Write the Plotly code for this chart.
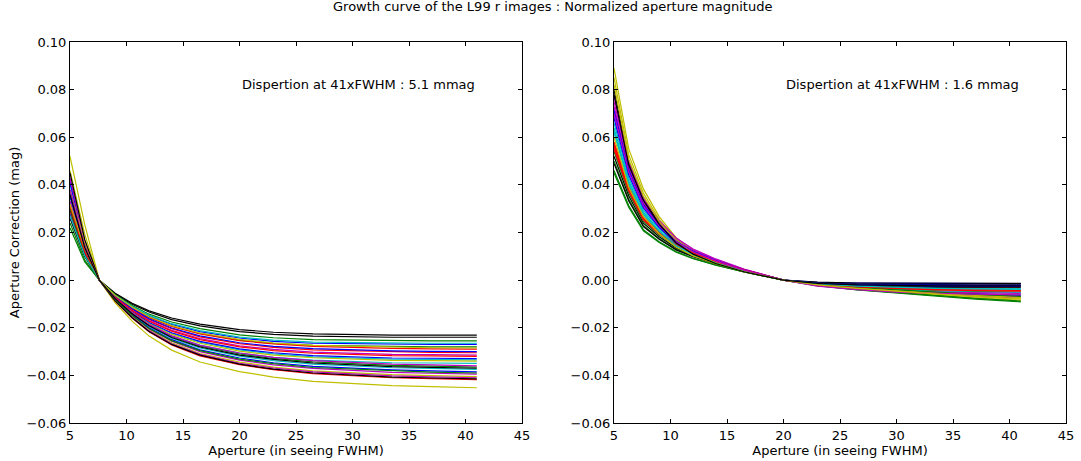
import plotly.graph_objects as go

# Aperture sample points (in units of seeing FWHM)
APERTURES = [5, 6.3, 7.6, 9, 10.5, 12, 14, 16.5, 20, 23, 26.5, 30, 33.5, 37, 41]

# matplotlib classic colour cycle b, g, r, c, m, y, k
COLOR_CYCLE = ["#0000ff", "#008000", "#ff0000", "#00bfbf", "#bf00bf", "#bfbf00", "#000000"]

# Left panel: normalized aperture corrections (mmag), one list per image
LEFT_MMAG = [
    [28, 10.6, 0, -6.5, -11.3, -15.1, -18.6, -21.6, -24.3, -25.7, -26.5, -26.7, -27.0, -27.0, -27.0],
    [33, 11.5, 0, -7.7, -13.9, -19.0, -23.7, -27.7, -31.0, -32.9, -34.3, -35.0, -35.8, -36.1, -36.5],
    [32, 12.2, 0, -6.9, -12.2, -16.5, -20.4, -23.8, -26.7, -28.2, -29.3, -29.7, -30.2, -30.3, -30.5],
    [36, 13.7, 0, -7.5, -13.4, -18.1, -22.4, -26.1, -29.3, -31.0, -32.2, -32.7, -33.2, -33.3, -33.5],
    [42, 16.0, 0, -8.3, -15.0, -20.5, -25.7, -30.0, -33.6, -35.6, -37.1, -37.9, -38.7, -39.1, -39.5],
    [52, 23.4, 0, -9.5, -17.2, -23.5, -29.4, -34.4, -38.4, -40.7, -42.5, -43.4, -44.3, -44.7, -45.2],
    [30, 11.4, 0, -5.5, -9.7, -12.9, -15.9, -18.5, -20.8, -21.9, -22.6, -22.9, -23.1, -23.1, -23.1],
    [35, 13.3, 0, -7.4, -13.2, -17.8, -22.1, -25.7, -28.9, -30.5, -31.7, -32.2, -32.7, -32.8, -33.0],
    [24, 8.4, 0, -6.7, -11.8, -15.7, -19.3, -22.4, -25.2, -26.6, -27.4, -27.7, -28.0, -28.0, -28.0],
    [38, 14.4, 0, -8.8, -15.9, -21.7, -27.2, -31.8, -35.5, -37.6, -39.3, -40.1, -41.0, -41.4, -41.8],
    [40, 15.2, 0, -7.9, -14.3, -19.5, -24.4, -28.5, -31.9, -33.8, -35.3, -36.0, -36.8, -37.1, -37.5],
    [33, 12.5, 0, -7.1, -12.6, -17.0, -21.1, -24.6, -27.6, -29.1, -30.2, -30.7, -31.2, -31.3, -31.5],
    [46, 19.3, 0, -8.5, -15.4, -21.1, -26.3, -30.8, -34.4, -36.5, -38.1, -38.9, -39.7, -40.1, -40.5],
    [26, 9.9, 0, -5.8, -10.1, -13.4, -16.6, -19.2, -21.6, -22.8, -23.5, -23.8, -24.0, -24.0, -24.0],
    [41, 15.6, 0, -8.1, -14.6, -20.0, -25.0, -29.3, -32.7, -34.7, -36.2, -37.0, -37.7, -38.1, -38.5],
    [22, 7.7, 0, -6.1, -10.7, -14.3, -17.6, -20.4, -23.0, -24.2, -25.0, -25.2, -25.5, -25.5, -25.5],
    [29, 11.0, 0, -6.5, -11.6, -15.7, -19.4, -22.6, -25.4, -26.8, -27.8, -28.3, -28.7, -28.9, -29.0],
    [37, 14.1, 0, -7.9, -14.0, -18.9, -23.5, -27.3, -30.6, -32.4, -33.6, -34.1, -34.7, -34.8, -35.0],
    [43, 16.3, 0, -8.6, -15.6, -21.3, -26.7, -31.2, -34.9, -36.9, -38.5, -39.4, -40.2, -40.6, -41.0],
    [38, 16.0, 0, -7.7, -13.6, -18.4, -22.8, -26.5, -29.8, -31.5, -32.6, -33.2, -33.7, -33.8, -34.0],
    [45, 17.1, 0, -8.7, -15.8, -21.6, -27.0, -31.5, -35.3, -37.4, -39.0, -39.8, -40.7, -41.1, -41.5],
    [30, 11.4, 0, -6.8, -12.0, -16.2, -20.1, -23.4, -26.3, -27.8, -28.8, -29.3, -29.7, -29.9, -30.0],
    [30, 10.5, 0, -8.2, -14.8, -20.3, -25.4, -29.6, -33.2, -35.1, -36.7, -37.4, -38.2, -38.6, -39.0],
    [31, 11.8, 0, -7.2, -12.8, -17.3, -21.4, -25.0, -28.0, -29.6, -30.7, -31.2, -31.7, -31.8, -32.0],
    [27, 10.3, 0, -6.4, -11.1, -14.8, -18.3, -21.2, -23.9, -25.2, -26.0, -26.2, -26.5, -26.5, -26.5],
    [38, 14.4, 0, -7.6, -13.7, -18.7, -23.4, -27.4, -30.6, -32.4, -33.8, -34.6, -35.3, -35.6, -36.0],
    [32, 13.4, 0, -6.4, -11.4, -15.4, -19.1, -22.2, -24.9, -26.4, -27.4, -27.8, -28.2, -28.4, -28.5],
    [36, 13.7, 0, -7.8, -14.1, -19.2, -24.1, -28.1, -31.5, -33.3, -34.8, -35.5, -36.3, -36.6, -37.0],
]

# Right panel: normalized aperture corrections (mmag), one list per image
RIGHT_MMAG = [
    [70, 45.5, 31.2, 22.8, 16.1, 11.9, 8.1, 4.2, 0, -0.9, -1.3, -1.4, -1.5, -1.5, -1.5],
    [46, 31.3, 21.2, 16.1, 12.0, 9.2, 6.4, 3.5, 0, -2.3, -4.1, -5.5, -6.8, -8.0, -9.1],
    [56, 38.1, 25.8, 19.6, 14.6, 11.2, 7.8, 4.2, 0, -1.6, -2.6, -3.2, -3.6, -3.8, -4.0],
    [66, 42.9, 29.4, 21.5, 15.2, 11.2, 7.6, 4.0, 0, -2.4, -3.9, -4.8, -5.4, -5.8, -6.0],
    [75, 48.8, 33.4, 24.4, 17.3, 12.8, 8.6, 4.5, 0, -1.8, -3.2, -4.2, -5.3, -6.2, -7.0],
    [89, 55.2, 38.3, 26.7, 17.8, 12.5, 8.0, 4.0, 0, -2.1, -3.8, -5.1, -6.4, -7.5, -8.5],
    [80, 49.6, 34.4, 24.0, 16.0, 11.2, 7.2, 3.6, 0, -1.2, -1.7, -1.9, -2.0, -2.0, -2.0],
    [72, 46.8, 32.0, 23.4, 16.6, 12.2, 8.3, 4.3, 0, -1.6, -2.9, -3.9, -4.9, -5.7, -6.5],
    [50, 34.0, 23.0, 17.5, 13.0, 10.0, 7.0, 3.8, 0, -2.0, -3.3, -4.0, -4.5, -4.8, -5.0],
    [58, 39.4, 26.7, 20.3, 15.1, 11.6, 8.1, 4.4, 0, -1.3, -2.1, -2.6, -2.9, -3.1, -3.2],
    [64, 41.6, 28.5, 20.8, 14.7, 10.9, 7.4, 3.8, 0, -2.1, -3.4, -4.2, -4.7, -5.0, -5.2],
    [73, 47.5, 32.5, 23.7, 16.8, 12.4, 8.4, 4.4, 0, -1.9, -3.4, -4.6, -5.7, -6.7, -7.6],
    [85, 52.7, 36.6, 25.5, 17.0, 11.9, 7.7, 3.8, 0, -2.0, -3.6, -4.8, -6.0, -7.0, -8.0],
    [52, 35.4, 23.9, 18.2, 13.5, 10.4, 7.3, 3.9, 0, -0.8, -1.2, -1.3, -1.4, -1.4, -1.4],
    [68, 44.2, 30.3, 22.1, 15.6, 11.6, 7.8, 4.1, 0, -1.6, -2.2, -2.5, -2.6, -2.6, -2.6],
    [54, 36.7, 24.8, 18.9, 14.0, 10.8, 7.6, 4.1, 0, -2.2, -4.0, -5.3, -6.6, -7.7, -8.8],
    [55, 37.4, 25.3, 19.3, 14.3, 11.0, 7.7, 4.1, 0, -1.8, -3.0, -3.7, -4.1, -4.4, -4.6],
    [62, 40.3, 27.6, 20.2, 14.3, 10.5, 7.1, 3.7, 0, -1.4, -2.3, -2.9, -3.2, -3.5, -3.6],
    [77, 50.1, 34.3, 25.0, 17.7, 13.1, 8.9, 4.6, 0, -2.2, -3.6, -4.5, -5.0, -5.4, -5.6],
    [82, 50.8, 35.3, 24.6, 16.4, 11.5, 7.4, 3.7, 0, -1.8, -3.3, -4.4, -5.5, -6.4, -7.3],
    [49, 33.3, 22.5, 17.2, 12.7, 9.8, 6.9, 3.7, 0, -1.8, -2.6, -2.9, -3.0, -3.0, -3.0],
    [71, 46.2, 31.6, 23.1, 16.3, 12.1, 8.2, 4.3, 0, -1.3, -1.9, -2.1, -2.2, -2.2, -2.2],
    [45, 30.6, 20.7, 15.8, 11.7, 9.0, 6.3, 3.4, 0, -1.7, -3.1, -4.1, -5.1, -6.0, -6.8],
    [57, 38.8, 26.2, 20.0, 14.8, 11.4, 8.0, 4.3, 0, -1.7, -2.8, -3.4, -3.9, -4.1, -4.3],
    [63, 41.0, 28.0, 20.5, 14.5, 10.7, 7.2, 3.8, 0, -1.6, -2.5, -3.1, -3.5, -3.7, -3.9],
    [70, 45.5, 31.2, 22.8, 16.1, 11.9, 8.1, 4.2, 0, -2.5, -4.0, -5.0, -5.6, -6.0, -6.2],
    [60, 39.0, 26.7, 19.5, 13.8, 10.2, 6.9, 3.6, 0, -2.0, -3.5, -4.7, -5.9, -6.9, -7.8],
    [78, 48.4, 33.5, 23.4, 15.6, 10.9, 7.0, 3.5, 0, -1.4, -2.0, -2.3, -2.4, -2.4, -2.4],
]

DISPERSION_TEXT = ["Dispertion at 41xFWHM : 5.1 mmag", "Dispertion at 41xFWHM : 1.6 mmag"]
TITLE = "Growth curve of the L99 r images : Normalized aperture magnitude"
X_TITLE = "Aperture (in seeing FWHM)"
Y_TITLE = "Aperture Correction (mag)"
X_TICKS = [5, 10, 15, 20, 25, 30, 35, 40, 45]
Y_TICKS = [-0.06, -0.04, -0.02, 0.00, 0.02, 0.04, 0.06, 0.08, 0.10]

W, H = 1081, 461
FONT = "DejaVu Sans"

fig = go.Figure()

for panel, curves in enumerate([LEFT_MMAG, RIGHT_MMAG]):
    xa = "x" if panel == 0 else "x2"
    ya = "y" if panel == 0 else "y2"
    for i, c in enumerate(curves):
        fig.add_trace(go.Scatter(
            x=APERTURES, y=[v / 1000.0 for v in c], mode="lines",
            line=dict(color=COLOR_CYCLE[i % len(COLOR_CYCLE)], width=1.2),
            xaxis=xa, yaxis=ya, showlegend=False, hoverinfo="skip"))

# pixel geometry of the two axes boxes
left_px = [(70, 522), (614, 1066)]
top_px, bot_px = 42, 423
ydom = [1 - bot_px / H, 1 - top_px / H]

axis_common = dict(
    showline=True, linecolor="#000000", linewidth=1, mirror="allticks",
    ticks="inside", ticklen=4, tickwidth=1, tickcolor="#000000",
    showgrid=False, zeroline=False, automargin=False,
    tickfont=dict(family=FONT, size=13, color="#000000"),
)

layout = dict(
    width=W, height=H,
    margin=dict(l=0, r=0, t=0, b=0, autoexpand=False),
    paper_bgcolor="white", plot_bgcolor="white",
    showlegend=False,
    font=dict(family=FONT, size=13, color="#000000"),
)

for panel in range(2):
    sfx = "" if panel == 0 else "2"
    x0, x1 = left_px[panel]
    layout["xaxis" + sfx] = dict(
        axis_common, domain=[x0 / W, x1 / W], range=[5, 45],
        tickvals=X_TICKS, ticktext=[str(t) for t in X_TICKS],
        anchor="y" + sfx,
        title=dict(text=X_TITLE, font=dict(family=FONT, size=13), standoff=0),
    )
    ydict = dict(
        axis_common, domain=ydom, range=[-0.06, 0.10],
        tickvals=Y_TICKS, tickformat=".2f",
        anchor="x" + sfx,
    )
    if panel == 0:
        ydict["title"] = dict(text=Y_TITLE, font=dict(family=FONT, size=13), standoff=4)
    layout["yaxis" + sfx] = ydict

fig.update_layout(**layout)

annotations = [
    dict(text=TITLE, x=552 / W, y=1 - 7 / H, xref="paper", yref="paper",
         xanchor="center", yanchor="middle", showarrow=False,
         font=dict(family=FONT, size=13, color="#000000")),
]
for panel in range(2):
    sfx = "" if panel == 0 else "2"
    annotations.append(dict(
        text=DISPERSION_TEXT[panel], x=41, y=0.0823, xref="x" + sfx, yref="y" + sfx,
        xanchor="right", yanchor="middle", showarrow=False,
        font=dict(family=FONT, size=13, color="#000000")))
fig.update_layout(annotations=annotations)

fig.write_html("out.html",
               config={"displayModeBar": False, "staticPlot": True},
               post_script="document.body.style.margin='0px';document.body.style.overflow='hidden';")
